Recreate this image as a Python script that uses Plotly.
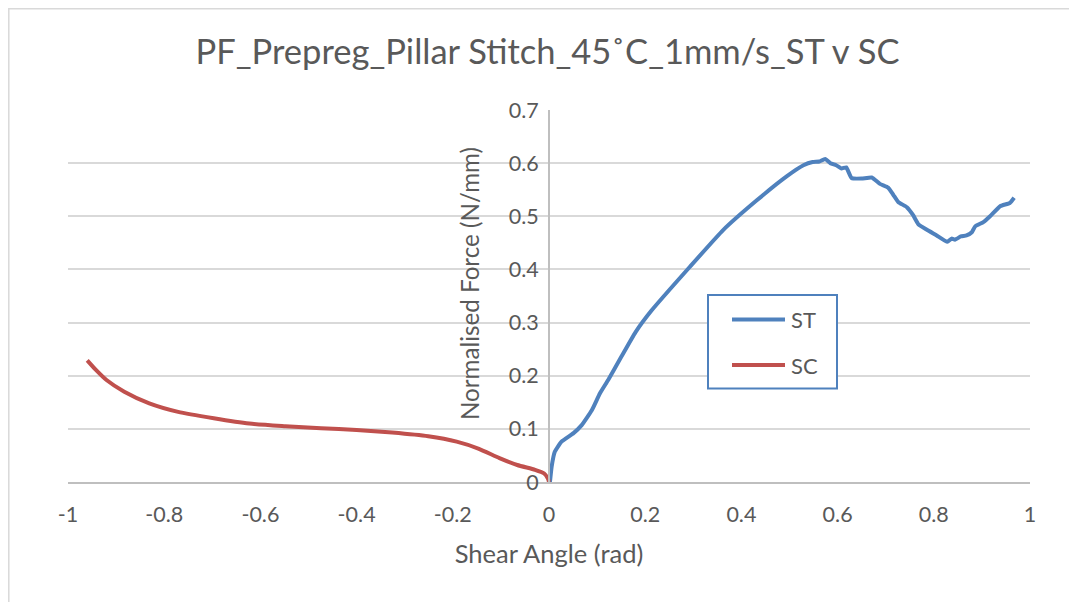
import plotly.graph_objects as go

# ---- data ----
st_x = [0.002, 0.0055, 0.012, 0.026, 0.051, 0.068, 0.089, 0.106, 0.123, 0.15, 0.18,
        0.2135, 0.293, 0.362, 0.432, 0.494, 0.529, 0.548, 0.562, 0.574, 0.585, 0.597,
        0.608, 0.618, 0.629, 0.650, 0.671, 0.688, 0.705, 0.716, 0.726, 0.744, 0.757,
        0.768, 0.785, 0.806, 0.828, 0.837, 0.844, 0.856, 0.868, 0.879, 0.886, 0.903,
        0.917, 0.938, 0.958, 0.967]
st_y = [0.0, 0.029, 0.057, 0.076, 0.092, 0.107, 0.135, 0.167, 0.192, 0.235, 0.282,
        0.323, 0.405, 0.474, 0.530, 0.575, 0.596, 0.602, 0.603, 0.608, 0.600, 0.596,
        0.590, 0.592, 0.572, 0.571, 0.573, 0.561, 0.554, 0.540, 0.527, 0.517, 0.502,
        0.485, 0.475, 0.464, 0.452, 0.458, 0.456, 0.462, 0.464, 0.470, 0.481, 0.489,
        0.500, 0.519, 0.525, 0.535]

sc_x = [-0.960, -0.942, -0.920, -0.883, -0.831, -0.771, -0.697, -0.623, -0.548,
        -0.474, -0.400, -0.326, -0.251, -0.192, -0.147, -0.103, -0.066, -0.029,
        -0.010, -0.002, 0.0]
sc_y = [0.229, 0.211, 0.192, 0.170, 0.148, 0.132, 0.120, 0.110, 0.105,
        0.101, 0.098, 0.093, 0.086, 0.076, 0.063, 0.045, 0.032, 0.023,
        0.016, 0.006, 0.0]

series_names = ["ST", "SC"]
x_tick_vals = [-1, -0.8, -0.6, -0.4, -0.2, 0, 0.2, 0.4, 0.6, 0.8, 1]
x_tick_text = ["-1", "-0.8", "-0.6", "-0.4", "-0.2", "0", "0.2", "0.4", "0.6", "0.8", "1"]
y_tick_vals = [0, 0.1, 0.2, 0.3, 0.4, 0.5, 0.6, 0.7]
y_tick_text = ["0", "0.1", "0.2", "0.3", "0.4", "0.5", "0.6", "0.7"]

title_text = "PF_Prepreg_Pillar Stitch_45˚C_1mm/s_ST v SC"
x_title = "Shear Angle (rad)"
y_title = "Normalised Force (N/mm)"

BLUE = "#4F81BD"
RED = "#C0504D"
TXT = "#595959"
FONT = "Lato"

fig = go.Figure()
fig.add_trace(go.Scatter(x=st_x, y=st_y, mode="lines", name=series_names[0],
                         line=dict(color=BLUE, width=4, shape="spline", smoothing=0.4),
                         showlegend=False))
fig.add_trace(go.Scatter(x=sc_x, y=sc_y, mode="lines", name=series_names[1],
                         line=dict(color=RED, width=4, shape="spline", smoothing=0.6),
                         showlegend=False))

# page body adds an 8px offset; work in window pixel coordinates below
OFF = 8
W, H = 1077 - OFF, 602 - OFF
PL, PR, PT, PB = 68, 1030, 110, 482  # plot area in window pixels
L, T = PL - OFF, PT - OFF
R, B = (W + OFF) - PR, (H + OFF) - PB
pw, ph = PR - PL, PB - PT


def px(xp):
    return (xp - PL) / pw


def py(yp):
    return (PB - yp) / ph


shapes = [
    # outer chart border
    dict(type="rect", xref="paper", yref="paper", x0=px(8.8), x1=px(1090), y0=py(620), y1=py(8.8),
         line=dict(color="#d9d9d9", width=1.5), fillcolor="rgba(0,0,0,0)", layer="below"),
    # legend box
    dict(type="rect", xref="paper", yref="paper", x0=px(708), x1=px(837), y0=py(388.5), y1=py(295),
         line=dict(color=BLUE, width=2), fillcolor="white"),
    dict(type="line", xref="paper", yref="paper", x0=px(732), x1=px(785), y0=py(319.5), y1=py(319.5),
         line=dict(color=BLUE, width=4)),
    dict(type="line", xref="paper", yref="paper", x0=px(732), x1=px(785), y0=py(365), y1=py(365),
         line=dict(color=RED, width=4)),
]

annotations = [
    dict(text=series_names[0], xref="paper", yref="paper", x=px(789), y=py(319.5), xanchor="left",
         yanchor="middle", showarrow=False, font=dict(family=FONT, size=22, color=TXT)),
    dict(text=series_names[1], xref="paper", yref="paper", x=px(789), y=py(365), xanchor="left",
         yanchor="middle", showarrow=False, font=dict(family=FONT, size=22, color=TXT)),
    dict(text=y_title, xref="paper", yref="paper", x=px(469), y=py(284), textangle=-90,
         xanchor="center", yanchor="middle", showarrow=False,
         font=dict(family=FONT, size=24.2, color=TXT)),
]

fig.update_layout(
    width=W, height=H, autosize=False,
    margin=dict(l=L, r=R, t=T, b=B, pad=0),
    paper_bgcolor="white", plot_bgcolor="white",
    font=dict(family=FONT, color=TXT),
    title=dict(text=title_text, x=px(547.5), xref="paper", xanchor="center",
               y=1 - (52 - OFF) / H, yref="container", yanchor="middle",
               font=dict(family=FONT, size=34.5, color=TXT)),
    xaxis=dict(range=[-1, 1], tickvals=x_tick_vals, ticktext=x_tick_text,
               showgrid=False, zeroline=False, showline=True, linecolor="#bfbfbf", linewidth=2,
               ticks="", ticklabelstandoff=12,
               tickfont=dict(family=FONT, size=21.5, color=TXT),
               title=dict(text=x_title, standoff=19, font=dict(family=FONT, size=25.5, color=TXT))),
    yaxis=dict(range=[0, 0.7], tickvals=y_tick_vals, ticktext=y_tick_text,
               anchor="free", position=0.5,
               showgrid=True, gridcolor="#d9d9d9", gridwidth=1.5,
               zeroline=False, showline=True, linecolor="#bfbfbf", linewidth=2,
               ticks="", ticklabelstandoff=5,
               tickfont=dict(family=FONT, size=21.5, color=TXT)),
    shapes=shapes,
    annotations=annotations,
    showlegend=False,
)

fig.write_html("out.html")
